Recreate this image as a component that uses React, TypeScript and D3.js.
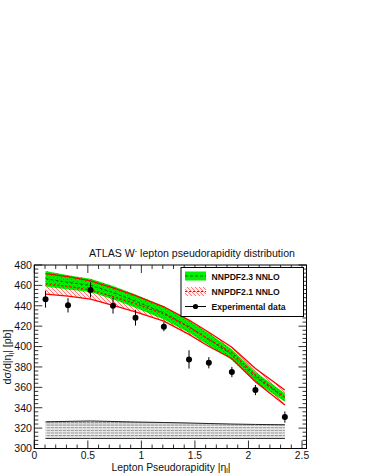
import React from "react";
import * as d3 from "d3";

// ---- data ----
const etaBins: number[] = [0.105, 0.315, 0.525, 0.735, 0.945, 1.21, 1.445, 1.63, 1.845, 2.065, 2.34];
const dataValues: number[] = [446.5, 440.4, 455.5, 440.1, 428.3, 419.5, 387.4, 384.1, 375.0, 357.3, 330.8];
const dataErrors: number[] = [8.3, 7.0, 7.4, 7.8, 7.7, 4.5, 9.0, 5.5, 5.0, 5.0, 5.5];
const nnpdf23Central: number[] = [466.5, 463.0, 460.0, 453.0, 444.5, 433.0, 419.5, 407.0, 392.0, 370.0, 350.0];
const nnpdf23Err: number[] = [7.5, 7.0, 6.5, 6.5, 6.5, 6.5, 6.0, 6.0, 5.3, 5.0, 4.2];
const nnpdf21Central: number[] = [461.5, 459.0, 455.5, 449.0, 442.0, 432.0, 419.0, 407.0, 393.8, 372.0, 350.0];
const nnpdf21Err: number[] = [10.0, 9.5, 9.0, 8.5, 8.0, 7.0, 7.0, 7.0, 5.5, 6.5, 7.3];
const sysTop: number[] = [326.2, 326.6, 327.0, 326.5, 326.0, 325.5, 325.0, 324.5, 324.0, 323.6, 323.3];
const sysBottom: number[] = [309.8, 309.8, 309.8, 309.8, 309.8, 309.8, 309.8, 309.8, 309.8, 309.8, 309.8];
const sysRows: number[] = [322.9, 320.3, 317.7, 315.1, 312.5];
const yTicks: number[] = [300, 320, 340, 360, 380, 400, 420, 440, 460, 480];
const xTicks: number[] = [0, 0.5, 1, 1.5, 2, 2.5];
const legendLabels: string[] = ["NNPDF2.3 NNLO", "NNPDF2.1 NNLO", "Experimental data"];

const FONT = "'Liberation Sans', Arial, Helvetica, sans-serif";

export default function App() {
  const W = 368, H = 476;
  const left = 34.3, right = 306.5, top = 265, bottom = 448.5;
  const x = d3.scaleLinear().domain([0, 2.5]).range([left, 302]);
  const y = d3.scaleLinear().domain([300, 480]).range([bottom, top]);
  const xMax = x.invert(right);

  const band = (c: number[], e: number[]) =>
    d3.area<number>()
      .x((_, i) => x(etaBins[i]))
      .y0((_, i) => y(c[i] - e[i]))
      .y1((_, i) => y(c[i] + e[i]))(c) as string;
  const line = (vals: number[]) =>
    d3.line<number>().x((_, i) => x(etaBins[i])).y((v) => y(v))(vals) as string;
  const sysArea = d3.area<number>()
    .x((_, i) => x(etaBins[i]))
    .y0((_, i) => y(sysBottom[i]))
    .y1((v) => y(v))(sysTop) as string;

  const yMinor = d3.range(300, 480.01, 4);
  const xMinor = d3.range(0, xMax + 1e-6, 0.1);

  return (
    <svg width={W} height={H} style={{ position: "absolute", left: 0, top: 0, background: "#fff" }}
      fontFamily={FONT}>
      <defs>
        <pattern id="redHatch" width="4" height="4" patternUnits="userSpaceOnUse">
          <path d="M-1,-1 L5,5 M3,-1 L5,1 M-1,3 L1,5" stroke="#ff2020" strokeWidth="0.8" opacity="0.75" />
        </pattern>
        <pattern id="greenHatch" width="4" height="4" patternUnits="userSpaceOnUse">
          <path d="M-1,-1 L5,5 M3,-1 L5,1 M-1,3 L1,5" stroke="#0a8a0a" strokeWidth="0.7" strokeDasharray="1.4,1.4" />
        </pattern>
        <pattern id="greyHatch" width="4" height="2.6" patternUnits="userSpaceOnUse">
          <rect width="4" height="2.6" fill="#d4d4d4" />
          <path d="M0,1.3 L4,1.3" stroke="#8a8a8a" strokeWidth="0.8" strokeDasharray="2,1" />
        </pattern>
        <clipPath id="frameClip">
          <rect x={left} y={top} width={right - left} height={bottom - top} />
        </clipPath>
      </defs>
      <rect x={0} y={0} width={W} height={H} fill="#fff" />

      {/* title */}
      <text x={192} y={257} textAnchor="middle" fontSize={10.6} fill="#111">
        ATLAS W<tspan dy={-4} fontSize={7}>-</tspan><tspan dy={4}> lepton pseudorapidity distribution</tspan>
      </text>

      <g clipPath="url(#frameClip)">
        {/* systematic bands */}
        <path d={sysArea} fill="url(#greyHatch)" />
        {sysRows.map((r, i) => (
          <line key={i} x1={x(etaBins[0])} x2={x(etaBins[etaBins.length - 1])} y1={y(r) + 1.3} y2={y(r) + 1.3}
            stroke="#fafafa" strokeWidth={0.7} />
        ))}
        <path d={line(sysTop)} fill="none" stroke="#222" strokeWidth={1} />
        <path d={line(sysBottom)} fill="none" stroke="#333" strokeWidth={1} />

        {/* NNPDF2.1 hatched band */}
        <path d={band(nnpdf21Central, nnpdf21Err)} fill="#fff0f0" />
        <path d={band(nnpdf21Central, nnpdf21Err)} fill="url(#redHatch)" />
        {/* NNPDF2.3 green band */}
        <path d={band(nnpdf23Central, nnpdf23Err)} fill="#00f000" />
        <path d={band(nnpdf23Central, nnpdf23Err)} fill="url(#greenHatch)" />
        <path d={line(nnpdf23Central)} fill="none" stroke="#0b6b0b" strokeWidth={1} strokeDasharray="3,2" />
        {/* NNPDF2.1 lines */}
        <path d={line(nnpdf21Central.map((c, i) => c + nnpdf21Err[i]))} fill="none" stroke="#ff0000" strokeWidth={1.3} />
        <path d={line(nnpdf21Central.map((c, i) => c - nnpdf21Err[i]))} fill="none" stroke="#ff0000" strokeWidth={1.3} />
        <path d={line(nnpdf21Central)} fill="none" stroke="#ff0000" strokeWidth={1.3} strokeDasharray="2,2" />

        {/* data */}
        {etaBins.map((e, i) => (
          <g key={i}>
            <line x1={x(e)} x2={x(e)} y1={y(dataValues[i] - dataErrors[i])} y2={y(dataValues[i] + dataErrors[i])}
              stroke="#000" strokeWidth={1} />
            <circle cx={x(e)} cy={y(dataValues[i])} r={3} fill="#000" />
          </g>
        ))}
      </g>

      {/* frame */}
      <rect x={left} y={top} width={right - left} height={bottom - top} fill="none" stroke="#000" strokeWidth={1} />
      {/* y ticks */}
      {yMinor.map((v, i) => {
        const major = yTicks.includes(Math.round(v));
        const len = major ? 8 : 4;
        return (
          <g key={"y" + i}>
            <line x1={left} x2={left + len} y1={y(v)} y2={y(v)} stroke="#000" strokeWidth={0.8} />
            <line x1={right} x2={right - len} y1={y(v)} y2={y(v)} stroke="#000" strokeWidth={0.8} />
          </g>
        );
      })}
      {xMinor.map((v, i) => {
        const major = Math.abs(v / 0.5 - Math.round(v / 0.5)) < 1e-6;
        const len = major ? 8 : 4;
        return (
          <g key={"x" + i}>
            <line x1={x(v)} x2={x(v)} y1={bottom} y2={bottom - len} stroke="#000" strokeWidth={0.8} />
            <line x1={x(v)} x2={x(v)} y1={top} y2={top + len} stroke="#000" strokeWidth={0.8} />
          </g>
        );
      })}
      {yTicks.map((t) => (
        <text key={"yl" + t} x={32} y={y(t) + 3.8} textAnchor="end" fontSize={10.6} fill="#111">{t}</text>
      ))}
      {xTicks.map((t) => (
        <text key={"xl" + t} x={x(t)} y={458.5} textAnchor="middle" fontSize={10.3} fill="#111">{String(t)}</text>
      ))}

      {/* axis titles */}
      <text x={171} y={470.5} textAnchor="middle" fontSize={10.4} fill="#111">
        Lepton Pseudorapidity |η<tspan dy={2.5} fontSize={7}>l</tspan><tspan dy={-2.5}>|</tspan>
      </text>
      <text transform={`translate(11,357) rotate(-90)`} textAnchor="middle" fontSize={10.6} fill="#111">
        dσ/d|η<tspan dy={2.5} fontSize={7}>l</tspan><tspan dy={-2.5}>| [pb]</tspan>
      </text>

      {/* legend */}
      <g>
        <rect x={181} y={267.5} width={122.5} height={49} fill="#fff" stroke="#000" strokeWidth={1} />
        <rect x={185} y={271.5} width={21} height={9} fill="#00f000" />
        <line x1={185} x2={206} y1={276} y2={276} stroke="#0b6b0b" strokeWidth={1} strokeDasharray="3,2" />
        <rect x={185} y={287} width={21} height={9} fill="#fff0f0" />
        <rect x={185} y={287} width={21} height={9} fill="url(#redHatch)" />
        <line x1={185} x2={206} y1={291.5} y2={291.5} stroke="#ff0000" strokeWidth={1.2} strokeDasharray="2,2" />
        <line x1={185} x2={206} y1={306.5} y2={306.5} stroke="#000" strokeWidth={1} />
        <circle cx={195.5} cy={306.5} r={2.6} fill="#000" />
        {legendLabels.map((l, i) => (
          <text key={l} x={211.5} y={279.5 + i * 15.2} fontSize={8.6} fontWeight="bold" fill="#111">{l}</text>
        ))}
      </g>
    </svg>
  );
}
